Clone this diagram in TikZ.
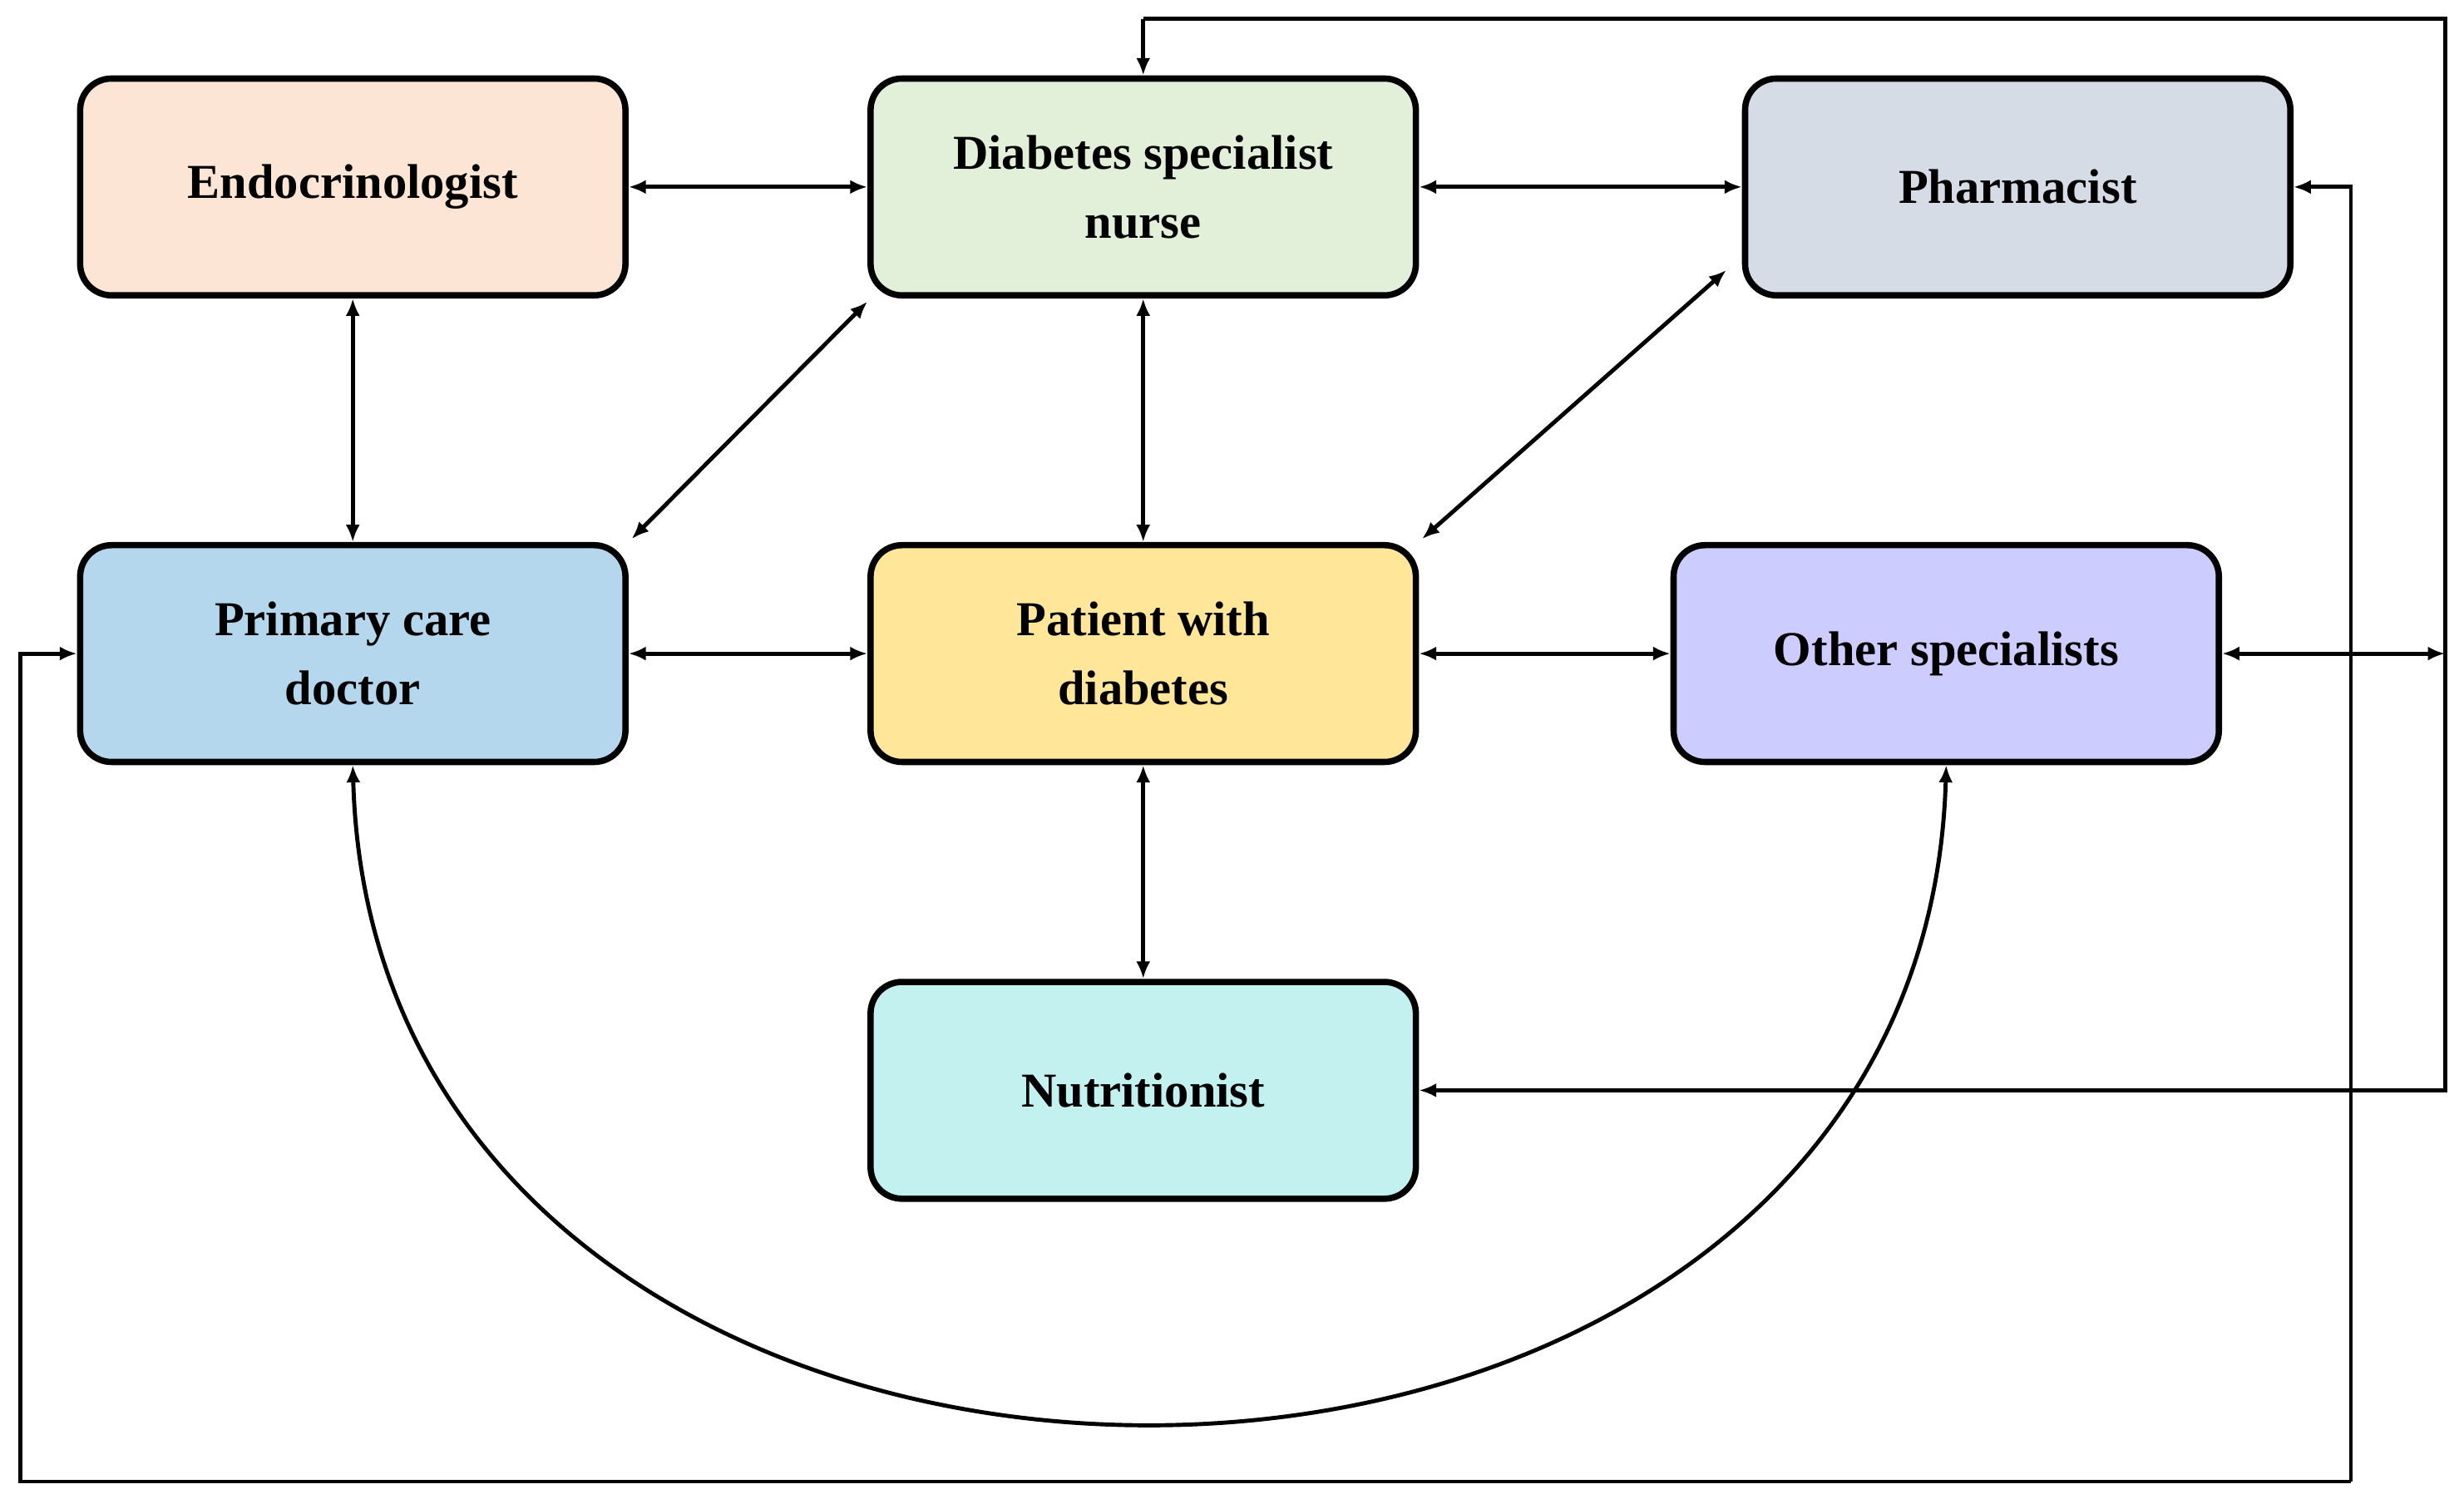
\documentclass[tikz,border=0pt]{standalone}
\usepackage{fontspec}
\setmainfont{Liberation Serif}
\usetikzlibrary{arrows.meta}
\definecolor{cEndo}{HTML}{FDE5D6}
\definecolor{cDSN}{HTML}{E2F0D9}
\definecolor{cPh}{HTML}{D6DCE5}
\definecolor{cPCD}{HTML}{B4D7EE}
\definecolor{cPat}{HTML}{FFE699}
\definecolor{cOth}{HTML}{CCCCFF}
\definecolor{cNut}{HTML}{C3F1F0}
\begin{document}
\begin{tikzpicture}[x=1pt,y=-1pt,
  box/.style={draw=black,line width=4pt,rounded corners=20pt,minimum width=347pt,minimum height=138pt,
    align=center,font=\fontsize{31}{44}\selectfont\bfseries,inner sep=0pt},
  con/.style={line width=2.6pt,{Latex[length=11pt,width=9pt]}-{Latex[length=11pt,width=9pt]}},
  one/.style={line width=2.6pt,-{Latex[length=11pt,width=9pt]}}]
\useasboundingbox (0,0) rectangle (1568,957);
\node[box,fill=cEndo] (endo) at (224.5,119) {Endocrinologist};
\node[box,fill=cDSN] (dsn) at (727.5,119) {Diabetes specialist\\nurse};
\node[box,fill=cPh] (ph) at (1284,119) {Pharmacist};
\node[box,fill=cPCD] (pcd) at (224.5,416) {Primary care\\doctor};
\node[box,fill=cPat] (pat) at (727.5,416) {Patient with\\diabetes};
\node[box,fill=cOth] (oth) at (1238.5,416) {Other specialists};
\node[box,fill=cNut] (nut) at (727.5,694) {Nutritionist};
\coordinate (r) at (1556,416);
\draw[con] (endo.east) -- (dsn.west);
\draw[con] (dsn.east) -- (ph.west);
\draw[con] (endo.south) -- (pcd.north);
\draw[con] (dsn.south) -- (pat.north);
\draw[con] (pcd.east) -- (pat.west);
\draw[con] (pat.east) -- (oth.west);
\draw[con] (pat.south) -- (nut.north);
\draw[con] (pcd.north east) ++(2,-2) -- ([shift={(0,2)}]dsn.south west);
\draw[con] ([shift={(2,-2)}]pat.north east) -- ([shift={(-10,-18)}]ph.south west);
\draw[con] (oth.east) -- (r);
\draw[con] (pcd.south) .. controls (240,1044) and (1222,1044) .. (oth.south);
\draw[line width=2.6pt] (r) |- (727.5,12);
\draw[one] (727.5,12) -- (dsn.north);
\draw[one] (1556,416) |- (nut.east);
\draw[one] (1496,943) |- (ph.east);
\draw[one] (1496,943) -| (13,416) -- (pcd.west);
\end{tikzpicture}
\end{document}
